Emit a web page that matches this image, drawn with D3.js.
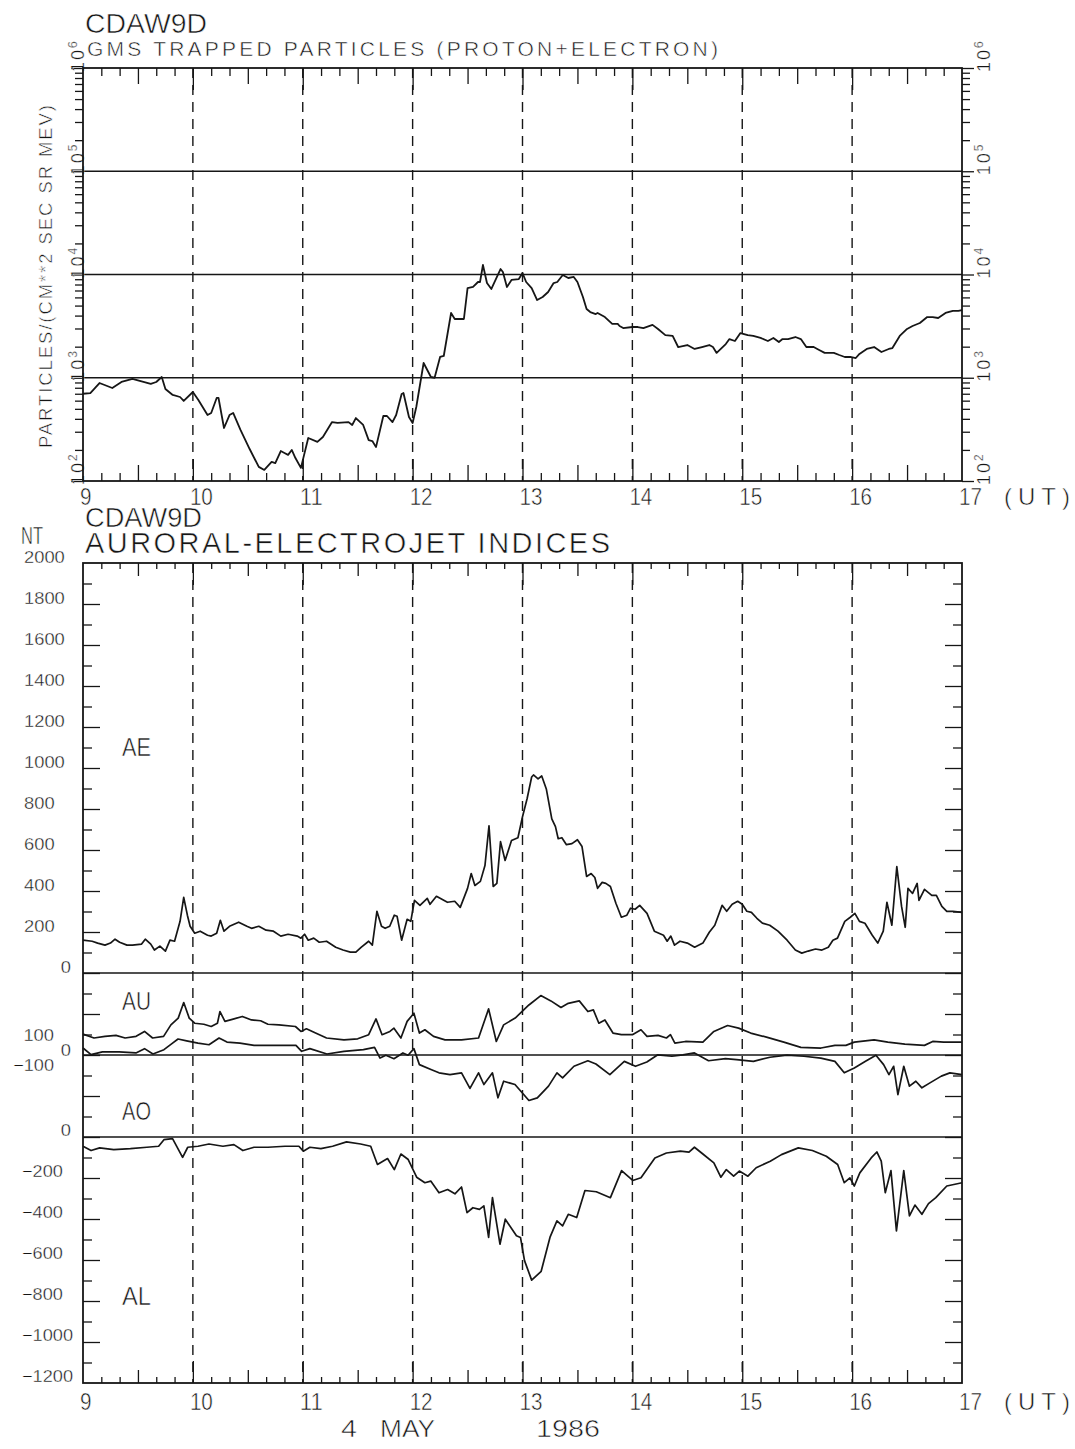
<!DOCTYPE html>
<html>
<head>
<meta charset="utf-8">
<script src="https://cdn.jsdelivr.net/npm/d3@7"></script>
<style>
  body { margin: 0; background: #fff; }
  svg text { font-family: "Liberation Sans", "DejaVu Sans", sans-serif; fill: #151515;
             stroke: #fff; stroke-width: 0.55px; paint-order: normal; }
  svg text.small { stroke-width: 0.35px; }
</style>
</head>
<body>
<svg id="chart" width="1075" height="1449"></svg>
<script>
// ---- GMS trapped particle flux (minutes after 09 UT, particles/(cm^2 s sr MeV)) ----
const gmsMinutes = [0,4,9,16,21,27,31,37,40,43,45,49,53,55,60,63,68,70,73,74,77,80,82,86,91,96,99,103,105,108,110,112,114,116,119,123,128,131,136,139,145,147,149,153,156,158,160,164,166,169,171,174,175,178,180,182,186,190,192,195,197,201,203,208,210,213,215.7,216.8,218.4,220.6,223,228,229.3,231.5,234,238,240,242,245,248,251,254,257,259,262,265,268,270,273,275,277,280,281,285,289,292,293,295,300,303,306,311,314,318,322,325,330,334,338,342,344,346,351,353,356,359,363,366,370,374,377,380,382,385,389,392,395,399,402,405,410,413,416,419,422,424,428,432,436,440,442,446,450,453,457,461,464,467,471,475,478,480];
const gmsFlux = [700,711,889,796,910,973,931,871,910,1017,778,681,651,596,728,609,435,456,637,637,326,435,456,312,204,137,128,153,149,195,187,179,200,167,134,261,239,267,372,365,372,349,407,349,249,244,213,426,426,372,436,697,711,417,365,521,1390,1017,1000,1589,1625,4240,3707,3707,7390,7570,8460,8460,12360,8270,7240,11300,10560,7570,8850,9040,10340,8460,7390,5660,6050,6770,8270,8460,9890,9250,9460,8460,6050,4630,4330,4140,4240,3870,3320,3320,3170,3030,3100,3100,3030,3250,2970,2590,2540,1985,2075,1900,1985,2075,1985,1740,2120,2370,2270,2710,2590,2540,2430,2270,2430,2220,2370,2370,2480,2370,1985,1985,1860,1740,1740,1660,1589,1589,1553,1700,1900,1985,1775,1900,1940,2540,2970,3170,3390,3870,3870,3790,4240,4440,4440,4530];

// ---- Auroral electrojet indices (minutes after 09 UT, nT) ----
const aeMinutes = [0,5,8,12,15,17.5,20,24,27,32,34,37,39,42,45,47.5,50,53,55,57,58.5,61,64,68,70,73,75,77,80,85,89.5,92,96,100,104,108,112,117,119,121,123,126,129,133,138,142,146,149,152,156,158,160.5,163,165,167.5,170,171.5,174,177,179,181,184,188,189.5,193,199,203,206,210,212,214,217,219.5,221.7,224,226,228,230.5,234,237.5,240,242.5,245,246,248.5,250.5,253,256,258,259.5,261.5,264,267,270,272.5,275,277.5,279.5,281,283.5,285.5,288,291,294,297,299,301.5,304,308,312,317,319,321,323,326,330,334,338.5,342,345,349,351.5,354.5,357.5,360,362.5,365,368,371,375,379.5,384.5,389,392.5,396,400,403.5,407,409.5,412,416,419,421.5,424,427,431,434,437,439,441.7,444.4,447,449,450.5,453,455.5,456.5,459.5,463.5,466,469,471.7,475,480];
const aeValues = [160,155,146,136,146,165,150,136,136,141,165,141,112,131,107,160,155,252,369,282,228,194,204,184,180,194,257,204,228,248,228,218,228,209,204,180,189,180,170,189,160,170,150,155,126,112,102,102,126,155,136,301,228,218,228,282,277,160,262,252,354,330,364,335,374,345,350,320,413,485,427,447,524,718,422,437,641,549,646,660,762,850,956,966,947,961,898,752,714,655,660,626,631,650,617,471,485,466,413,442,437,422,340,272,282,316,311,330,291,204,184,155,180,136,155,146,126,146,199,233,330,301,335,350,335,301,296,267,243,233,204,160,112,97,107,117,112,126,160,170,252,272,291,252,243,184,146,204,345,233,519,325,223,413,388,437,354,408,379,379,325,301,301,296];

const auMinutes = [0,6,12,18,23,29,33.6,38,44,48,52,55,58,61,66,70,73.4,74.8,77.5,82,87,92,97,101,107,116,119,122,127,133,142.5,150,156,160,163.3,167.6,169.8,173.6,177,180.7,183.7,186.7,191.4,197.7,206.7,216,221.5,225.7,229.7,236,243.5,250,255.5,261,265,271,275.7,278.7,281.7,285,289.4,294,300,304.7,308,314,318.6,320.8,323.2,329,338.5,344.5,352,358,364.6,373.7,382.7,392,403,410.6,416.6,421.2,432,439.5,448.8,459.5,464,470,480];
const auValues = [102,83,91,96,83,91,115,83,91,147,180,256,180,155,150,139,155,212,164,175,188,171,167,150,147,139,115,128,107,83,74,79,99,176,99,115,131,83,164,204,107,123,91,74,74,83,225,66,147,180,244,290,264,232,252,264,212,220,155,171,107,99,99,123,91,96,83,99,58,66,63,115,144,131,107,86,63,37,34,47,47,63,74,63,53,47,66,63,63];

const aoMinutes = [0,4.4,10.6,19.7,28.9,33.6,38.2,44.2,48.9,51.9,56.6,62.8,68.8,74.3,78.6,85.7,93.4,102.6,116.3,119.4,123.9,133.2,142.5,153.1,159.2,162.2,165.4,169.8,174.7,177.5,180.7,183.7,190,194.4,200.4,206.7,211.3,216,218.9,223.6,226.6,229.7,235.9,243.5,248.1,254.2,258.8,261.9,268.1,275.7,280.1,287.7,295.6,301.7,307.9,313.9,321.6,327.6,333.9,341.6,350.8,356.9,366.1,375.1,384.4,393.7,402.9,410.6,415.7,421.2,427.3,433,437.2,440.1,442.7,445,448.2,451.3,454.8,458.1,462.5,468.7,473.4,480];
const aoValues = [34,2,15,15,10,31,5,26,58,78,69,58,50,83,63,58,47,47,47,18,31,5,18,26,37,-15,-1,-18,10,-1,31,-47,-71,-87,-96,-87,-163,-87,-144,-87,-209,-128,-144,-222,-209,-152,-87,-112,-55,-28,-44,-96,-31,-55,-34,1,-6,1,10,-28,-18,-23,-31,-11,-1,-6,-15,-31,-87,-63,-31,-1,-47,-96,-55,-193,-55,-152,-128,-160,-136,-103,-87,-96];

const alMinutes = [0,4.4,9.1,16.8,25.9,34.9,41.3,44.2,48.9,54.4,57.2,62.8,68.8,76.4,82.4,87.3,93.4,101,110.3,117.9,120.3,123.9,129.9,136.3,143.9,151.6,157.1,160.8,166.3,170,173.6,177.6,182.2,186.7,189.9,194.4,199.1,203.1,206.7,209.7,212.9,216.5,218.9,221.5,223.6,227.7,230.6,236.7,238.9,241.1,245,250.2,255.1,258.8,261.9,265,269.6,274.1,280.3,288,294.1,300.2,304.7,312.3,318.6,326.2,330.9,333.9,338.5,344.5,348.3,351.3,355.3,358.4,363.1,367.6,375.3,381.4,390.6,398.3,405.9,412.1,415.7,418.8,421.2,424.2,430.4,433.5,435.9,438.1,441.2,444.2,448.2,451.3,454.3,458.1,461.7,465.7,471.7,480];
const alValues = [-45,-66,-53,-62,-57,-50,-45,-13,-8,-99,-50,-45,-34,-45,-37,-66,-50,-50,-45,-45,-69,-50,-57,-45,-24,-34,-45,-134,-105,-159,-83,-110,-196,-223,-215,-272,-256,-277,-244,-369,-345,-353,-336,-490,-296,-523,-401,-482,-490,-603,-698,-655,-487,-409,-434,-377,-393,-261,-267,-296,-164,-212,-199,-102,-78,-69,-74,-50,-83,-126,-196,-159,-191,-166,-191,-150,-118,-86,-53,-66,-94,-134,-223,-199,-239,-175,-102,-73,-118,-272,-164,-458,-164,-385,-332,-377,-325,-296,-239,-223];

// ---- axis labels ----
const hourLabels = ["9","10","11","12","13","14","15","16","17"];
const fluxDecades = [2,3,4,5,6];
const aeTickLabels = [2000,1800,1600,1400,1200,1000,800,600,400,200,0];
const auTickLabels = [100,0];
const aoTickLabels = [-100];
const alTickLabels = [0,-200,-400,-600,-800,-1000,-1200];
const indexNames = ["AE","AU","AO","AL"];

// ---- geometry ----
const ink = "#161616";
const X0 = 83, X1 = 962;
const TOP0 = 68, TOP1 = 481;        // flux panel frame
const BOT0 = 563, BOT1 = 1383;      // electrojet panel frame
// baselines of the stacked sub-plots on the shared nT axis
const OFF = { AE: 0, AU: -400, AO: -400, AL: -800 };

const svg = d3.select("#chart");
const x = d3.scaleLinear().domain([0, 480]).range([X0, X1]);
const yFlux = d3.scaleLog().domain([1e2, 1e6]).range([TOP1, TOP0]);
const yNT = d3.scaleLinear().domain([-2000, 2000]).range([BOT1, BOT0]);

// condensed plotter-style text: glyphs squeezed to a given run length
function label(parent, str, px, py, size, len) {
  const t = parent.append("text").attr("x", px).attr("y", py).attr("font-size", size).text(str);
  if (len) t.attr("textLength", len).attr("lengthAdjust", "spacingAndGlyphs");
  if (size < 19) t.attr("class", "small");
  return t;
}

function styleAxis(g, w) {
  g.select(".domain").remove();
  g.selectAll("line").attr("stroke", ink).attr("stroke-width", w || 1.3);
  g.attr("font-family", null);
}

// time ticks along a horizontal edge, pointing into the panel
function timeTicks(yEdge, edge, lens) {
  const sets = [
    { vals: d3.range(10, 480, 10).filter(m => m % 30 !== 0), len: lens[0] },
    { vals: d3.range(30, 480, 60), len: lens[1] },
    { vals: d3.range(60, 480, 60), len: lens[2] }
  ];
  sets.forEach(s => {
    const ax = (edge === "bottom" ? d3.axisBottom(x) : d3.axisTop(x))
      .tickValues(s.vals).tickSize(-s.len).tickFormat("");
    svg.append("g").attr("transform", `translate(0,${yEdge})`).call(ax).call(g => styleAxis(g));
  });
}

function hourGrid(y0, y1) {
  svg.append("g").selectAll("line").data(d3.range(60, 480, 60)).join("line")
    .attr("x1", d => x(d)).attr("x2", d => x(d)).attr("y1", y0).attr("y2", y1)
    .attr("stroke", ink).attr("stroke-width", 1.4).attr("stroke-dasharray", "10,7");
}

function frame(y0, y1) {
  svg.append("rect").attr("x", X0).attr("y", y0).attr("width", X1 - X0).attr("height", y1 - y0)
    .attr("fill", "none").attr("stroke", ink).attr("stroke-width", 1.8);
}

function hourText(baseline) {
  const g = svg.append("g");
  hourLabels.forEach((d, i) => label(g, d, x(i * 60) - 3, baseline, 24, d.length * 11.5));
  label(g, "(UT)", 1004, baseline, 24, 66).attr("lengthAdjust", "spacing");
}

// ================= Panel 1: GMS trapped particles =================
label(svg, "CDAW9D", 85, 33, 27, 122);
label(svg, "GMS TRAPPED PARTICLES (PROTON+ELECTRON)", 87, 56, 21, 631).attr("lengthAdjust", "spacing");

// decade grid lines
svg.append("g").selectAll("line").data([1e3, 1e4, 1e5]).join("line")
  .attr("x1", X0).attr("x2", X1).attr("y1", d => yFlux(d)).attr("y2", d => yFlux(d))
  .attr("stroke", ink).attr("stroke-width", 1.4);
hourGrid(TOP0, TOP1);

// log ticks on both sides, pointing outward
const minorFlux = [];
fluxDecades.slice(0, -1).forEach(e => d3.range(2, 10).forEach(k => minorFlux.push(k * 10 ** e)));
const decadeVals = fluxDecades.map(e => 10 ** e);
[[d3.axisLeft, X0], [d3.axisRight, X1]].forEach(([mk, px]) => {
  svg.append("g").attr("transform", `translate(${px},0)`)
    .call(mk(yFlux).tickValues(minorFlux).tickSize(8).tickFormat("")).call(g => styleAxis(g));
  svg.append("g").attr("transform", `translate(${px},0)`)
    .call(mk(yFlux).tickValues(decadeVals).tickSize(12).tickFormat("")).call(g => styleAxis(g));
});

// rotated decade labels 10^n on both sides
fluxDecades.forEach(e => {
  [84, 990].forEach(bx => {
    const t = svg.append("text").attr("class", "small")
      .attr("transform", `translate(${bx},${yFlux(10 ** e) + 4}) rotate(-90)`)
      .attr("font-size", 18);
    t.append("tspan").attr("letter-spacing", 2).text("10");
    t.append("tspan").attr("dy", -7).attr("font-size", 12).text(e);
  });
});

svg.append("text").attr("transform", `translate(52,448) rotate(-90)`).attr("font-size", 18.5)
  .attr("textLength", 343).attr("lengthAdjust", "spacing").text("PARTICLES/(CM**2 SEC SR MEV)");

timeTicks(TOP1, "bottom", [8, 16, 22]);
timeTicks(TOP0, "top", [8, 16, 22]);

svg.append("path")
  .datum(d3.zip(gmsMinutes, gmsFlux))
  .attr("fill", "none").attr("stroke", ink).attr("stroke-width", 1.8).attr("stroke-linejoin", "round")
  .attr("d", d3.line().x(d => x(d[0])).y(d => yFlux(d[1])));

frame(TOP0, TOP1);
hourText(505);

// ================= Panel 2: auroral electrojet indices =================
label(svg, "CDAW9D", 85, 527, 27, 117);
label(svg, "AURORAL-ELECTROJET INDICES", 85, 553, 29, 525).attr("lengthAdjust", "spacing");
label(svg, "NT", 21, 544, 23, 22);

// zero lines of the stacked sub-plots
svg.append("g").selectAll("line").data([OFF.AE, OFF.AU, OFF.AL]).join("line")
  .attr("x1", X0).attr("x2", X1).attr("y1", d => yNT(d)).attr("y2", d => yNT(d))
  .attr("stroke", ink).attr("stroke-width", 1.4);
hourGrid(BOT0, BOT1);

// nT ticks on both sides, pointing inward
const ntMinor = d3.range(-1900, 2000, 100).filter(v => v % 200 !== 0);
const ntMajor = d3.range(-1800, 2000, 200);
[[d3.axisLeft, X0], [d3.axisRight, X1]].forEach(([mk, px]) => {
  svg.append("g").attr("transform", `translate(${px},0)`)
    .call(mk(yNT).tickValues(ntMinor).tickSize(-9).tickFormat("")).call(g => styleAxis(g));
  svg.append("g").attr("transform", `translate(${px},0)`)
    .call(mk(yNT).tickValues(ntMajor).tickSize(-17).tickFormat("")).call(g => styleAxis(g));
});

timeTicks(BOT1, "bottom", [6, 13, 22]);
timeTicks(BOT0, "top", [6, 13, 22]);

// tick labels of the nT axis
const fmt = v => (v < 0 ? "\u2212" + Math.abs(v) : String(v));
function ntText(v, px, py, anchor) {
  const s = fmt(v);
  const t = label(svg, s, px, py, 16.5, s.length * 10.2);
  if (anchor) t.attr("text-anchor", anchor);
}
aeTickLabels.forEach(v => (v === 0 ? ntText(v, 71, yNT(v + OFF.AE), "end") : ntText(v, 24, yNT(v + OFF.AE))));
alTickLabels.forEach(v => (v === 0 ? ntText(v, 71, yNT(v + OFF.AL) - 1, "end") : ntText(v, 22, yNT(v + OFF.AL) - 1)));
// AU / AO labels are packed closely around the shared zero line
const auY = yNT(OFF.AU);
ntText(auTickLabels[0], 54, auY - 14, "end");
ntText(auTickLabels[1], 71, auY + 1, "end");
ntText(aoTickLabels[0], 54, auY + 16, "end");

// index curves
const seriesList = [
  { name: "AE", t: aeMinutes, v: aeValues },
  { name: "AU", t: auMinutes, v: auValues },
  { name: "AO", t: aoMinutes, v: aoValues },
  { name: "AL", t: alMinutes, v: alValues }
];
seriesList.forEach(s => {
  svg.append("path")
    .datum(d3.zip(s.t, s.v))
    .attr("fill", "none").attr("stroke", ink).attr("stroke-width", 1.7).attr("stroke-linejoin", "round")
    .attr("d", d3.line().x(d => x(d[0])).y(d => yNT(d[1] + OFF[s.name])));
});

// sub-plot names
const nameBase = { AE: 756, AU: 1010, AO: 1120, AL: 1305 };
indexNames.forEach(n => label(svg, n, 122, nameBase[n], 25, 29));

frame(BOT0, BOT1);
hourText(1410);

// date line
const dateWords = [["4", 341, 16], ["MAY", 380, 55], ["1986", 536, 64]];
dateWords.forEach(([w, px, len]) => label(svg, w, px, 1437, 23, len));
</script>
</body>
</html>
